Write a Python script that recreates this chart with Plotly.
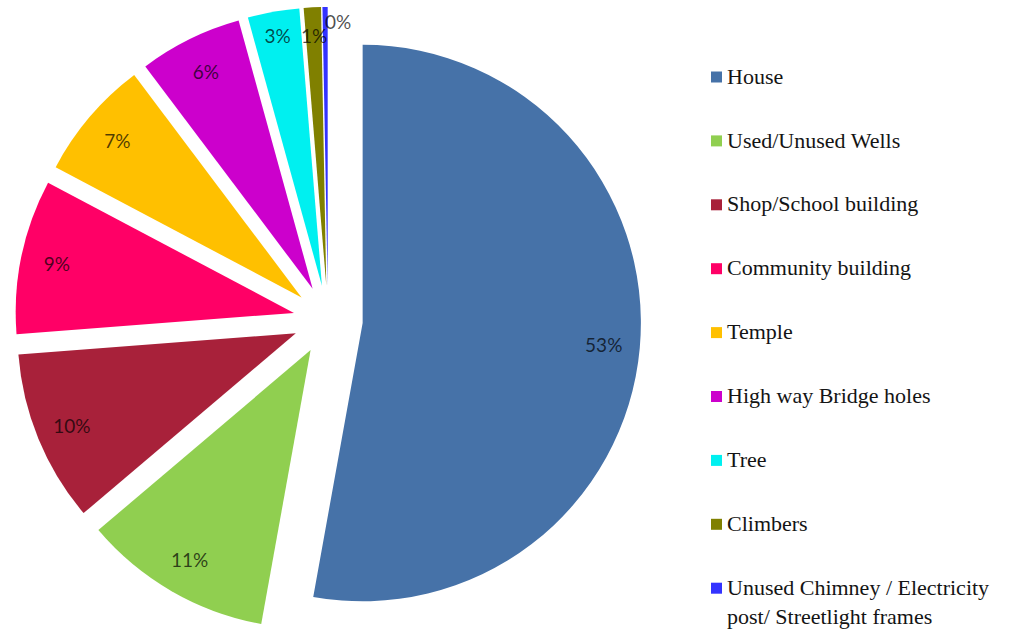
import math
import plotly.graph_objects as go

# Share of roosting sites by structure type (%)
categories = [
    "House",
    "Used/Unused Wells",
    "Shop/School building",
    "Community building",
    "Temple",
    "High way Bridge holes",
    "Tree",
    "Climbers",
    "Unused Chimney / Electricity<br>post/ Streetlight frames",
]
shares = [53, 11, 10, 9, 7, 6, 3, 1, 0.3]

colors = ["#4672A8", "#90CF50", "#A8213A", "#FF0066", "#FFC000",
          "#CC00CC", "#00F0F0", "#808000", "#3333FF"]

W, H = 1025, 633
PULL = 0.125
DOMAIN_X = [0.0146, 0.6254]
DOMAIN_Y = [0.0, 0.989]
LABEL_FONT = dict(family="Lato, Open Sans, sans-serif", size=19, color="rgba(0,0,0,0.7)")
N_RING = 7  # wedges labelled by the ring trace; the thin ones get annotations

common = dict(
    labels=categories,
    values=shares,
    sort=False,
    direction="clockwise",
    rotation=0,
    pull=PULL,
    domain=dict(x=DOMAIN_X, y=DOMAIN_Y),
    showlegend=False,
)

fig = go.Figure()

# filled wedges
fig.add_trace(go.Pie(
    **common,
    marker=dict(colors=colors, line=dict(width=0)),
    textinfo="none",
    hoverinfo="label+percent",
))

# transparent ring on top, so the percentage labels sit near the rim
pct_templates = ["%{percent:.0%}"] * N_RING + [""] * (len(shares) - N_RING)
fig.add_trace(go.Pie(
    **common,
    hole=0.74,
    marker=dict(colors=["rgba(0,0,0,0)"] * len(shares), line=dict(width=0)),
    texttemplate=pct_templates,
    textposition="inside",
    insidetextorientation="horizontal",
    textfont=LABEL_FONT,
    hoverinfo="skip",
))

# pie geometry in pixels (same rule plotly uses for the radius)
total = sum(shares)
r_px = min((DOMAIN_X[1] - DOMAIN_X[0]) * W, (DOMAIN_Y[1] - DOMAIN_Y[0]) * H) / (2 * (1 + PULL))
cx_px = W * (DOMAIN_X[0] + DOMAIN_X[1]) / 2
cy_px = H * (1 - (DOMAIN_Y[0] + DOMAIN_Y[1]) / 2)


def wedge_point(idx, frac):
    """Pixel position along the middle of wedge idx, frac of the radius out."""
    before = sum(shares[:idx])
    theta = 2 * math.pi * (before + shares[idx] / 2) / total
    dist = r_px * PULL + frac * r_px
    return cx_px + dist * math.sin(theta), cy_px - dist * math.cos(theta)


# thin wedges: Climbers label near the rim, last wedge label beside its tip
x1, y1 = wedge_point(7, 0.9)
fig.add_annotation(
    x=x1 / W, y=1 - y1 / H, xref="paper", yref="paper",
    xanchor="center", yanchor="middle",
    text=f"{round(100 * shares[7] / total)}%", showarrow=False, font=LABEL_FONT,
)
x2, y2 = wedge_point(8, 1.0)
fig.add_annotation(
    x=(x2 - 2) / W, y=1 - (y2 + 15) / H, xref="paper", yref="paper",
    xanchor="left", yanchor="middle",
    text=f"{round(100 * shares[8] / total)}%", showarrow=False, font=LABEL_FONT,
)

# legend: coloured squares with serif captions
LEG_TOP, LEG_STEP = 77, 63.9
LEG_SIZE = 22
for i, (name, col) in enumerate(zip(categories, colors)):
    yc = LEG_TOP + i * LEG_STEP
    fig.add_shape(
        type="rect", xref="paper", yref="paper",
        x0=711 / W, x1=722 / W, y0=1 - (yc + 5.5) / H, y1=1 - (yc - 5.5) / H,
        fillcolor=col, line=dict(width=0),
    )
    fig.add_annotation(
        x=726 / W, y=1 - (yc - 0.65 * LEG_SIZE) / H,
        xref="paper", yref="paper", xanchor="left", yanchor="top",
        align="left", showarrow=False, borderpad=0,
        text=name,
        font=dict(family="Liberation Serif, Times New Roman, serif", size=LEG_SIZE, color="#141414"),
    )

fig.update_layout(
    width=W,
    height=H,
    margin=dict(l=0, r=0, t=0, b=0),
    paper_bgcolor="white",
    plot_bgcolor="white",
    uniformtext=dict(minsize=LABEL_FONT["size"], mode="show"),
)

fig.write_html("out.html")
